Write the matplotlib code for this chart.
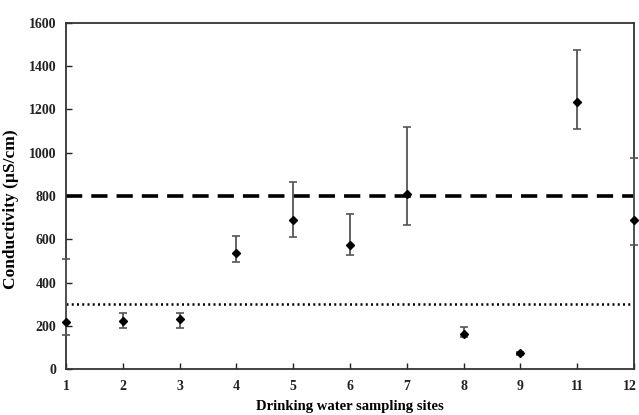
import numpy as np
import matplotlib.pyplot as plt
import matplotlib.transforms as mtransforms

# Conductivity per drinking water sampling site (mean with min/max range)
sites = ['1', '2', '3', '4', '5', '6', '7', '8', '9', '11', '12']
mean_cond = [216, 223, 230, 538, 689, 575, 809, 163, 73, 1236, 690]
low_cond = [157, 191, 191, 496, 610, 527, 667, 147, 66, 1110, 575]
high_cond = [509, 260, 260, 616, 866, 717, 1118, 193, 80, 1475, 977]

# guideline limits
upper_limit = 800
lower_limit = 300

plt.rcParams['font.family'] = 'Liberation Serif'
plt.rcParams['font.weight'] = 'bold'

fig = plt.figure(figsize=(6.39, 4.15), dpi=100)
ax = fig.add_axes([0.1033, 0.1108, 0.8889, 0.8338])

x = np.arange(len(sites))
mean = np.array(mean_cond)
yerr = [mean - np.array(low_cond), np.array(high_cond) - mean]

markers, caps, bars = ax.errorbar(x, mean, yerr=yerr, fmt='D',
                                  color='black', ms=4.5, ecolor='#555555',
                                  elinewidth=1.3, capsize=3, capthick=1.2,
                                  zorder=3)
markers.set_clip_on(False)
for cap in caps:
    cap.set_clip_on(False)
    cap.set_color('black')
for bar in bars:
    bar.set_clip_on(False)

ax.axhline(upper_limit, color='black', lw=2.6, dashes=(4.5, 2.5))
ax.plot([0, len(sites) - 1.02], [lower_limit, lower_limit], color='black',
        lw=1.8, dashes=(0.8, 1.3))

ax.set_xlim(0, len(sites) - 1)
ax.set_ylim(0, 1600)
ax.set_xticks(x)
ax.set_xticklabels(sites)
ax.set_yticks(np.arange(0, 1601, 200))
ax.tick_params(direction='in', length=4, width=1, labelsize=10,
               colors='#222222')
ax.tick_params(axis='x', pad=8)
ax.tick_params(axis='y', pad=7)
for spine in ax.spines.values():
    spine.set_linewidth(1.3)
    spine.set_color('#333333')

# nudge the last site label so it stays inside the figure
last = ax.get_xticklabels()[-1]
last.set_transform(last.get_transform() +
                   mtransforms.ScaledTranslation(-4 / 100, 0,
                                                 fig.dpi_scale_trans))

ax.set_xlabel('Drinking water sampling sites', fontsize=10.5,
              fontweight='bold', labelpad=5)
ax.set_ylabel('Conductivity (\u00b5S/cm)', fontsize=12.5,
              fontweight='bold')
ax.yaxis.set_label_coords(-0.082, 0.462)

fig.savefig('out.png', dpi=100)
